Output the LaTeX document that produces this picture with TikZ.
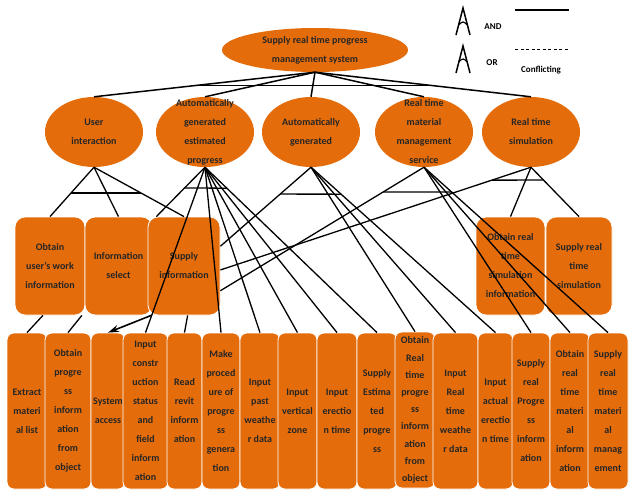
\documentclass[tikz,border=0pt]{standalone}
\usepackage{fontspec}
\setmainfont{Carlito}
\usepackage{tikz}
\usetikzlibrary{shapes.geometric,calc,arrows.meta}
\definecolor{boxorange}{RGB}{228,108,10}

\begin{document}
\begin{tikzpicture}[x=1pt,y=-1pt,
    txt/.style={align=center,font=\fontsize{10}{19}\selectfont\bfseries,text=black!85,inner sep=0pt},
    legtxt/.style={font=\fontsize{9}{9}\selectfont\bfseries,inner sep=0pt},
    ell/.style={ellipse,fill=boxorange,inner sep=0pt},
    midbox/.style={rectangle,rounded corners=10pt,fill=boxorange,draw=white,line width=0.8pt,inner sep=0pt,minimum height=98pt},
    lowbox/.style={rectangle,rounded corners=7pt,fill=boxorange,draw=white,line width=0.8pt,inner sep=0pt,minimum height=156pt},
    link/.style={black,line width=1.3pt}]
    \useasboundingbox (0,0) rectangle (629,490);
    \fill[white] (0,0) rectangle (629,490);

    % legend
    \draw[line width=1.5pt] (456,35) -- (463,8) -- (470,35);
    \draw[line width=1.2pt] (458.5,25) .. controls (463,21) .. (467.5,25);
    \node[legtxt] (andlbl) at (493,27) {AND};
    \draw[line width=1.5pt] (456,73) -- (463,46) -- (470,73);
    \draw[line width=1.2pt] (458.5,62) .. controls (463,58) .. (467.5,62);
    \node[legtxt] (orlbl) at (492,63) {OR};
    \coordinate (solidl) at (515,10);
    \coordinate (solidr) at (569,10);
    \draw[line width=1.6pt] (solidl) -- (solidr);
    \coordinate (dashl) at (515,49);
    \coordinate (dashr) at (569,49);
    \draw[dashed,line width=0.6pt,dash pattern=on 3pt off 2.5pt] (dashl) -- (dashr);
    \node[legtxt] (conflbl) at (541,70) {Conflicting};

    % goal and subgoals
    \node[ell,minimum width=186pt,minimum height=44pt,label={[txt]center:Supply real time progress\\management system}] (top) at (315,50) {};
    \node[ell,minimum width=98pt,minimum height=70pt,label={[txt]center:User\\interaction}] (user) at (94,132) {};
    \node[ell,minimum width=98pt,minimum height=70pt,label={[txt]center:Automatically\\generated\\estimated\\progress}] (auto) at (205,132) {};
    \node[ell,minimum width=98pt,minimum height=70pt,label={[txt]center:Automatically\\generated}] (gen) at (311,132) {};
    \node[ell,minimum width=98pt,minimum height=70pt,label={[txt]center:Real time\\material\\management\\service}] (mat) at (424,132) {};
    \node[ell,minimum width=98pt,minimum height=70pt,label={[txt]center:Real time\\simulation}] (sim) at (531,132) {};

    % middle tasks
    \node[midbox,minimum width=70pt,label={[txt]center:Obtain\\user's work\\information}] (work) at (50,266) {};
    \node[midbox,minimum width=67pt,label={[txt]center:Information\\select}] (select) at (118.5,266) {};
    \node[midbox,minimum width=72pt,label={[txt]center:Supply\\information}] (supply) at (184,266) {};
    \node[midbox,minimum width=69pt,label={[txt]center:Obtain real\\time\\simulation\\information}] (simobt) at (510.5,266) {};
    \node[midbox,minimum width=66pt,label={[txt]center:Supply real\\time\\simulation}] (simsup) at (579,266) {};

    % low tasks
    \node[lowbox,minimum width=40pt,label={[txt]center:Extract\\materi\\al list}] (list) at (27,411) {};
    \node[lowbox,minimum width=46pt,label={[txt]center:Obtain\\progre\\ss\\inform\\ation\\from\\object}] (progobj) at (68,411) {};
    \node[lowbox,minimum width=34pt,label={[txt]center:System\\access}] (access) at (108,411) {};
    \node[lowbox,minimum width=45pt,label={[txt]center:Input\\constr\\uction\\status\\and\\field\\inform\\ation}] (status) at (145.5,411) {};
    \node[lowbox,minimum width=35pt,label={[txt]center:Read\\revit\\inform\\ation}] (revit) at (184.5,411) {};
    \node[lowbox,minimum width=38pt,label={[txt]center:Make\\proced\\ure of\\progre\\ss\\genera\\tion}] (procedure) at (221,411) {};
    \node[lowbox,minimum width=40pt,label={[txt]center:Input\\past\\weathe\\r data}] (pastweather) at (260,411) {};
    \node[lowbox,minimum width=39pt,label={[txt]center:Input\\vertical\\zone}] (zone) at (297.5,411) {};
    \node[lowbox,minimum width=40pt,label={[txt]center:Input\\erectio\\n time}] (erection) at (337,411) {};
    \node[lowbox,minimum width=40pt,label={[txt]center:Supply\\Estima\\ted\\progre\\ss}] (estimate) at (377,411) {};
    \node[lowbox,minimum width=40pt,label={[txt,font=\fontsize{10}{17.2}\selectfont\bfseries]center:Obtain\\Real\\time\\progre\\ss\\inform\\ation\\from\\object}] (rtprog) at (415,410) {};
    \node[lowbox,minimum width=45pt,label={[txt]center:Input\\Real\\time\\weathe\\r data}] (rtweather) at (455.5,411) {};
    \node[lowbox,minimum width=35pt,label={[txt]center:Input\\actual\\erectio\\n time}] (actual) at (495.5,411) {};
    \node[lowbox,minimum width=38pt,label={[txt]center:Supply\\real\\Progre\\ss\\inform\\ation}] (rtsupply) at (531,411) {};
    \node[lowbox,minimum width=40pt,label={[txt]center:Obtain\\real\\time\\materi\\al\\inform\\ation}] (matobt) at (570,411) {};
    \node[lowbox,minimum width=40pt,label={[txt]center:Supply\\real\\time\\materi\\al\\manag\\ement}] (matsup) at (608,411) {};

    % points on the box sides
    \coordinate (supplyin) at ($(supply.north west)!0.12!(supply.north east)$);
    \coordinate (supplyr1) at ($(supply.north east)!0.3!(supply.south east)$);
    \coordinate (supplyr2) at ($(supply.north east)!0.54!(supply.south east)$);
    \coordinate (supplyr3) at ($(supply.north east)!0.75!(supply.south east)$);

    % top level
    \foreach \g in {user,auto,gen,mat,sim}
        \draw[link,line width=1.5pt] (top.south) -- (\g.north);
    \draw[link] ($(top.south)!0.55!(user.north)$) -- ($(top.south)!0.55!(sim.north)$);

    % user interaction
    \foreach \t in {work.north,select.north,supply.north}
        \draw[link] (user.south) -- (\t);
    \draw[link] ($(user.south)!0.52!(work.north)$) -- ($(user.south)!0.52!(supply.north)$);

    % estimated progress
    \foreach \t in {supplyin,status.north,procedure.north,pastweather.north,zone.north,erection.north,estimate.north}
        \draw[link] (auto.south) -- (\t);
    \draw[link] ($(auto.south)!0.42!(supplyin)$) -- ($(auto.south)!0.127!(estimate.north)$);

    % automatically generated
    \foreach \t in {supplyr1,rtprog.north,rtweather.north,actual.north}
        \draw[link] (gen.south) -- (\t);
    \draw[link] ($(gen.south)!0.34!(supplyr1)$) -- ($(gen.south)!0.163!(actual.north)$);

    % material management
    \foreach \t in {supplyr3,rtsupply.north,matobt.north,matsup.north}
        \draw[link] (mat.south) -- (\t);
    \draw[link] ($(mat.south)!0.2!(supplyr3)$) -- ($(mat.south)!0.15!(matsup.north)$);

    % simulation
    \foreach \t in {simobt.north,simsup.north,supplyr2}
        \draw[link] (sim.south) -- (\t);
    \draw[link] ($(sim.south)!0.126!(supplyr2)$) -- ($(sim.south)!0.26!(simsup.north)$);

    % middle to low
    \draw[link] ($(work.south west)!0.4!(work.south east)$) -- (list.north);
    \draw[link] ($(work.south west)!0.95!(work.south east)$) -- (progobj.north);
    \draw[link,line width=1.6pt,-{Stealth[length=11pt,width=7pt]}] ($(supply.south west)!0.05!(supply.south east)$) -- (access.north);
    \draw[link] ($(supply.south west)!0.55!(supply.south east)$) -- (revit.north);
\end{tikzpicture}
\end{document}
